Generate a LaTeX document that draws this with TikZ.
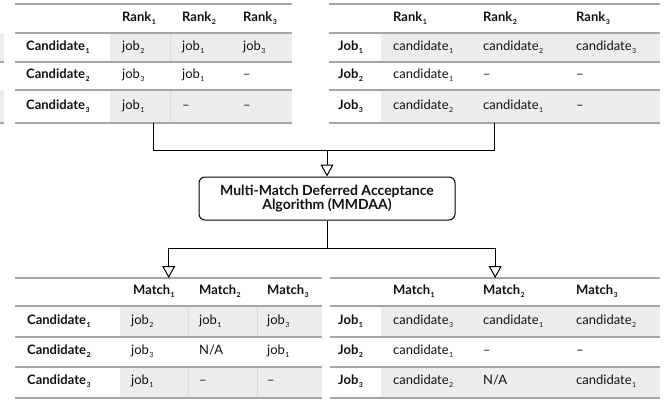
\documentclass[tikz,border=0pt]{standalone}
\usepackage{fontspec}
\setmainfont{Lato}
\usetikzlibrary{arrows.meta}
\definecolor{gline}{HTML}{A6A6A6}
\definecolor{shadec}{HTML}{EDEDED}
\definecolor{sepc}{HTML}{DADADA}
\definecolor{txt}{HTML}{111111}
\newcommand{\sbx}[1]{\kern0.5pt\raisebox{-3pt}{\fontsize{7}{7}\selectfont #1}}
\begin{document}
\begin{tikzpicture}[x=1pt,y=-1pt,
  gl/.style={draw=gline,line width=1.4pt},
  sepl/.style={draw=sepc,line width=0.7pt},
  hd/.style={font=\fontsize{13}{15}\selectfont\bfseries,text=txt,anchor=mid west,inner sep=0pt},
  cl/.style={font=\fontsize{13}{15}\selectfont,text=txt,anchor=mid west,inner sep=0pt},
  tbl/.style={inner sep=0pt,anchor=north west},
  conn/.style={draw=black,line width=1pt},
  arr/.style={conn,-{Triangle[open,width=13pt,length=12pt]}}
]
\useasboundingbox (0,0) rectangle (665,400);

% fragment at left edge
\fill[shadec] (0,33) rectangle (4,62);
\fill[shadec] (0,90) rectangle (4,123);
\draw[gl] (0,62) -- (4,62) (0,123) -- (4,123);

% ---------- top-left table ----------
\node[tbl,minimum width=277pt,minimum height=119pt] (tl) at (15,4) {};
\fill[shadec] (110,33) rectangle (292,62);
\fill[shadec] (110,90) rectangle (292,123);
\draw[sepl] (170,33) -- (170,62) (170,90) -- (170,123);
\foreach \y in {4,33,62,90,123} \draw[gl] (15,\y) -- (292,\y);
\node[hd] (tlh1) at (122,18.5) {Rank\sbx{1}};
\node[hd] (tlh2) at (182,18.5) {Rank\sbx{2}};
\node[hd] (tlh3) at (243,18.5) {Rank\sbx{3}};
\node[hd] (tlr1) at (26,47.5) {Candidate\sbx{1}};
\node[hd] (tlr2) at (26,76) {Candidate\sbx{2}};
\node[hd] (tlr3) at (26,106.5) {Candidate\sbx{3}};
\node[cl] (tl11) at (122,47.5) {job\sbx{2}};
\node[cl] (tl12) at (182,47.5) {job\sbx{1}};
\node[cl] (tl13) at (243,47.5) {job\sbx{3}};
\node[cl] (tl21) at (122,76) {job\sbx{3}};
\node[cl] (tl22) at (182,76) {job\sbx{1}};
\node[cl] (tl23) at (243,76) {–};
\node[cl] (tl31) at (122,106.5) {job\sbx{1}};
\node[cl] (tl32) at (182,106.5) {–};
\node[cl] (tl33) at (243,106.5) {–};

% ---------- top-right table ----------
\node[tbl,minimum width=331pt,minimum height=119pt] (tr) at (329,4) {};
\fill[shadec] (381,33) rectangle (660,62);
\fill[shadec] (381,90) rectangle (660,123);
\foreach \y in {4,33,62,90,123} \draw[gl] (329,\y) -- (660,\y);
\node[hd] (trh1) at (393,18.5) {Rank\sbx{1}};
\node[hd] (trh2) at (483,18.5) {Rank\sbx{2}};
\node[hd] (trh3) at (576,18.5) {Rank\sbx{3}};
\node[hd] (trr1) at (338,47.5) {Job\sbx{1}};
\node[hd] (trr2) at (338,76) {Job\sbx{2}};
\node[hd] (trr3) at (338,106.5) {Job\sbx{3}};
\node[cl] (tr11) at (393,47.5) {candidate\sbx{1}};
\node[cl] (tr12) at (483,47.5) {candidate\sbx{2}};
\node[cl] (tr13) at (576,47.5) {candidate\sbx{3}};
\node[cl] (tr21) at (393,76) {candidate\sbx{1}};
\node[cl] (tr22) at (483,76) {–};
\node[cl] (tr23) at (576,76) {–};
\node[cl] (tr31) at (393,106.5) {candidate\sbx{2}};
\node[cl] (tr32) at (483,106.5) {candidate\sbx{1}};
\node[cl] (tr33) at (576,106.5) {–};

% ---------- algorithm box ----------
\node[draw,rounded corners=6pt,line width=1pt,minimum width=256pt,minimum height=43pt,
      align=center,inner sep=0pt,text=txt,
      font=\fontsize{14}{14.5}\selectfont\bfseries] (algo) at (327,198.5)
      {Multi-Match Deferred Acceptance\\Algorithm (MMDAA)};

\coordinate (j1) at (327,150);
\coordinate (j2) at (327,248);
\draw[conn] (tl.south) |- (j1);
\draw[conn] (tr.south) |- (j1);
\draw[arr] (j1) -- (algo.north);
\draw[conn] (algo.south) -- (j2);

% ---------- bottom-left table ----------
\node[tbl,minimum width=307pt,minimum height=120pt] (bl) at (15,278) {};
\fill[shadec] (120,306) rectangle (322,337);
\fill[shadec] (120,367) rectangle (322,398);
\draw[sepl] (188,306) -- (188,337) (188,367) -- (188,398)
            (257,306) -- (257,337) (257,367) -- (257,398);
\foreach \y in {278,306,337,367,398} \draw[gl] (15,\y) -- (322,\y);
\node[hd] (blh1) at (133,292) {Match\sbx{1}};
\node[hd] (blh2) at (199,292) {Match\sbx{2}};
\node[hd] (blh3) at (267,292) {Match\sbx{3}};
\node[hd] (blr1) at (27,321.5) {Candidate\sbx{1}};
\node[hd] (blr2) at (27,352) {Candidate\sbx{2}};
\node[hd] (blr3) at (27,382) {Candidate\sbx{3}};
\node[cl] (bl11) at (131,321.5) {job\sbx{2}};
\node[cl] (bl12) at (199,321.5) {job\sbx{1}};
\node[cl] (bl13) at (267,321.5) {job\sbx{3}};
\node[cl] (bl21) at (131,352) {job\sbx{3}};
\node[cl] (bl22) at (199,352) {N/A};
\node[cl] (bl23) at (267,352) {job\sbx{1}};
\node[cl] (bl31) at (131,382) {job\sbx{1}};
\node[cl] (bl32) at (199,382) {–};
\node[cl] (bl33) at (267,382) {–};

% ---------- bottom-right table ----------
\node[tbl,minimum width=330pt,minimum height=120pt] (br) at (330,278) {};
\fill[shadec] (381,306) rectangle (660,337);
\fill[shadec] (381,367) rectangle (660,398);
\foreach \y in {278,306,337,367,398} \draw[gl] (330,\y) -- (660,\y);
\node[hd] (brh1) at (393,292) {Match\sbx{1}};
\node[hd] (brh2) at (483,292) {Match\sbx{2}};
\node[hd] (brh3) at (576,292) {Match\sbx{3}};
\node[hd] (brr1) at (338,321.5) {Job\sbx{1}};
\node[hd] (brr2) at (338,352) {Job\sbx{2}};
\node[hd] (brr3) at (338,382) {Job\sbx{3}};
\node[cl] (br11) at (393,321.5) {candidate\sbx{3}};
\node[cl] (br12) at (483,321.5) {candidate\sbx{1}};
\node[cl] (br13) at (576,321.5) {candidate\sbx{2}};
\node[cl] (br21) at (393,352) {candidate\sbx{1}};
\node[cl] (br22) at (483,352) {–};
\node[cl] (br23) at (576,352) {–};
\node[cl] (br31) at (393,382) {candidate\sbx{2}};
\node[cl] (br32) at (483,382) {N/A};
\node[cl] (br33) at (576,382) {candidate\sbx{1}};

\draw[arr] (j2) -| (bl.north);
\draw[arr] (j2) -| (br.north);
\end{tikzpicture}
\end{document}
